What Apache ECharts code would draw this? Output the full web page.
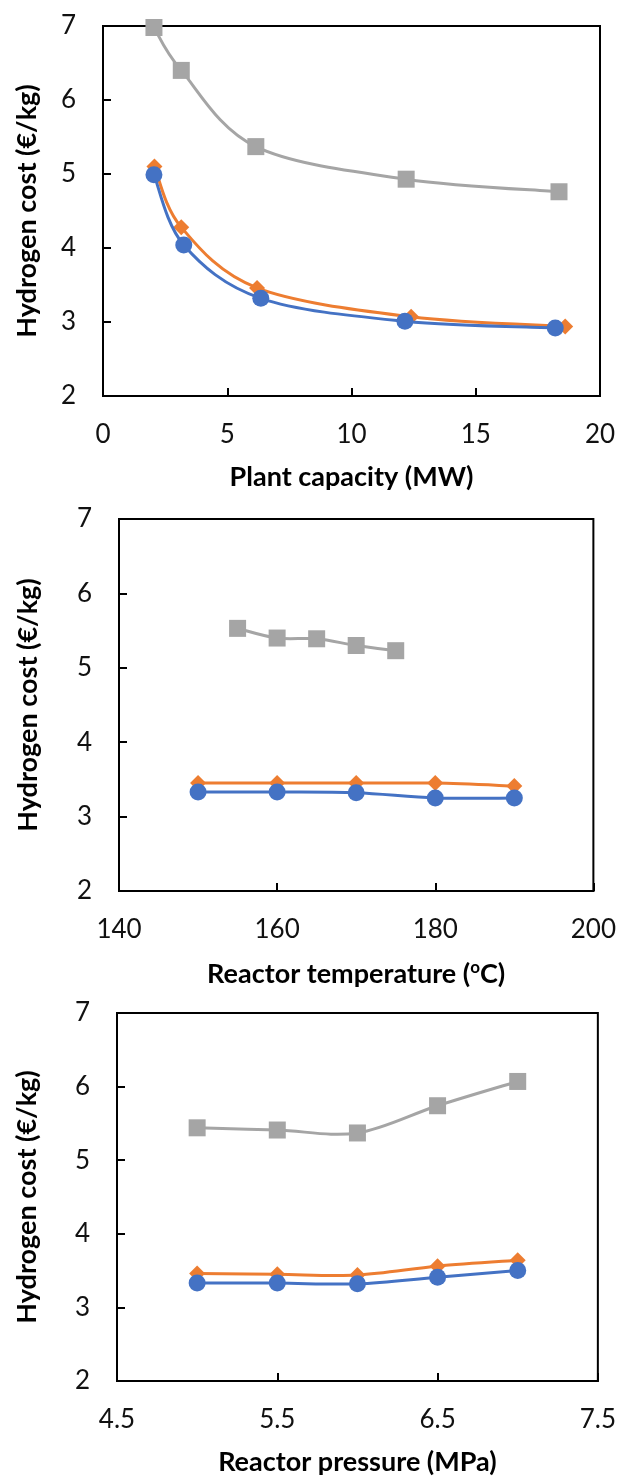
<!DOCTYPE html>
<html>
<head>
<meta charset="utf-8">
<script src="https://cdn.jsdelivr.net/npm/echarts@6/dist/echarts.min.js"></script>
<style>
html,body{margin:0;padding:0;background:#fff;}
#c{width:619px;height:1477px;}
</style>
</head>
<body>
<div id="c"></div>
<script>
// Panel 1: plant capacity
var capGrayX   = [2.05, 3.15, 6.15, 12.2, 18.35];
var capGrayY   = [6.98, 6.40, 5.37, 4.93, 4.76];
var capOrangeX = [2.07, 3.15, 6.2, 12.4, 18.6];
var capOrangeY = [5.10, 4.28, 3.46, 3.07, 2.94];
var capBlueX   = [2.05, 3.25, 6.35, 12.15, 18.2];
var capBlueY   = [4.99, 4.04, 3.32, 3.01, 2.92];
// Panel 2: reactor temperature
var tempGrayX   = [155, 160, 165, 170, 175];
var tempGrayY   = [5.53, 5.40, 5.39, 5.30, 5.23];
var tempOrangeX = [150, 160, 170, 180, 190];
var tempOrangeY = [3.45, 3.45, 3.45, 3.45, 3.41];
var tempBlueX   = [150, 160, 170, 180, 190];
var tempBlueY   = [3.33, 3.33, 3.32, 3.25, 3.25];
// Panel 3: reactor pressure
var presX       = [5.0, 5.5, 6.0, 6.5, 7.0];
var presGrayY   = [5.44, 5.41, 5.37, 5.74, 6.07];
var presOrangeY = [3.46, 3.45, 3.44, 3.56, 3.64];
var presBlueY   = [3.33, 3.33, 3.32, 3.41, 3.50];
// Axis ticks
var yTicks = {min: 2, max: 7, interval: 1};
var xTicks1 = {min: 0, max: 20, interval: 5};
var xTicks2 = {min: 140, max: 200, interval: 20};
var xTicks3 = {min: 4.5, max: 7.5, interval: 1};
var yName = 'Hydrogen cost (€/kg)';
var xNames = ['Plant capacity (MW)', 'Reactor temperature ({sup|o}C)', 'Reactor pressure (MPa)'];

function zip(xs, ys){ return xs.map(function(x,i){ return [x, ys[i]]; }); }

var FONT = 'Lato';
var grids = [
  {left:103, top:26, width:497, height:370},
  {left:119, top:519, width:478, height:372},
  {left:117, top:1013, width:481, height:369}
];
var yGaps = [62, 77, 76];
var xt = [xTicks1, xTicks2, xTicks3];

var option = {
  animation:false,
  backgroundColor:'#fff',
  grid: grids.map(function(g){ return Object.assign({show:true, borderColor:'#000', borderWidth:2, backgroundColor:'transparent'}, g); }),
  xAxis: xt.map(function(t,i){
    return {
      type:'value', gridIndex:i, min:t.min, max:t.max, interval:t.interval,
      name:xNames[i], nameLocation:'middle', nameGap:68,
      nameTextStyle:{fontFamily:FONT, fontSize:27, fontWeight:'bold', color:'#000',
        rich:{sup:{fontFamily:FONT, fontSize:17, fontWeight:'bold', color:'#000', padding:[0,0,13,0]}}},
      axisLine:{show:true, onZero:false, lineStyle:{color:'#000', width:2}},
      axisTick:{show:true, inside:true, length:8, lineStyle:{color:'#000', width:2}},
      axisLabel:{fontFamily:FONT, fontSize:26, color:'#111', margin:26,
        formatter:function(v){ return (i===2) ? v.toFixed(1) : String(v); }},
      splitLine:{show:false}
    };
  }),
  yAxis: grids.map(function(g,i){
    return {
      type:'value', gridIndex:i, min:yTicks.min, max:yTicks.max, interval:yTicks.interval,
      name:yName, nameLocation:'middle', nameGap:yGaps[i], nameRotate:90,
      nameTextStyle:{fontFamily:FONT, fontSize:27, fontWeight:'bold', color:'#000'},
      axisLine:{show:true, lineStyle:{color:'#000', width:2}},
      axisTick:{show:true, inside:true, length:8, lineStyle:{color:'#000', width:2}},
      axisLabel:{fontFamily:FONT, fontSize:26, color:'#111', margin:27},
      splitLine:{show:false}
    };
  }),
  series: []
};

var GRAY='#A5A5A5', ORANGE='#ED7D31', BLUE='#4472C4';

// Smooth curve (Catmull-Rom style, like a spreadsheet "smoothed line") through the data, via axis coords
function smoothLine(idx, data, color, z){
  option.series.push({
    type:'custom', xAxisIndex:idx, yAxisIndex:idx, data:data, z:z, silent:true,
    encode:{x:0, y:1},
    renderItem:function(params, api){
      if (params.dataIndex !== 0) return null;
      var p = data.map(function(d){ return api.coord(d); });
      var children = [];
      var n = p.length;
      for (var i = 0; i < n - 1; i++){
        var p0 = p[Math.max(i-1,0)], p1 = p[i], p2 = p[i+1], p3 = p[Math.min(i+2,n-1)];
        var t = 1/6;
        children.push({
          type:'bezierCurve',
          shape:{
            x1:p1[0], y1:p1[1], x2:p2[0], y2:p2[1],
            cpx1:p1[0] + (p2[0]-p0[0])*t, cpy1:p1[1] + (p2[1]-p0[1])*t,
            cpx2:p2[0] - (p3[0]-p1[0])*t, cpy2:p2[1] - (p3[1]-p1[1])*t
          },
          style:{stroke:color, lineWidth:3, fill:null}
        });
      }
      return {type:'group', children:children};
    }
  });
}
function markers(idx, data, color, symbol, size, z){
  option.series.push({
    type:'scatter', xAxisIndex:idx, yAxisIndex:idx, data:data,
    symbol:symbol, symbolSize:size, itemStyle:{color:color, opacity:1}, z:z, clip:false
  });
}
function addSeries(idx, data, color, symbol, size, z){
  smoothLine(idx, data, color, z);
  markers(idx, data, color, symbol, size, z + 0.5);
}
addSeries(0, zip(capGrayX, capGrayY), GRAY, 'rect', 17, 2);
addSeries(0, zip(capOrangeX, capOrangeY), ORANGE, 'diamond', 16, 3);
addSeries(0, zip(capBlueX, capBlueY), BLUE, 'circle', 17, 4);
addSeries(1, zip(tempGrayX, tempGrayY), GRAY, 'rect', 17, 2);
addSeries(1, zip(tempOrangeX, tempOrangeY), ORANGE, 'diamond', 16, 3);
addSeries(1, zip(tempBlueX, tempBlueY), BLUE, 'circle', 17, 4);
addSeries(2, zip(presX, presGrayY), GRAY, 'rect', 17, 2);
addSeries(2, zip(presX, presOrangeY), ORANGE, 'diamond', 16, 3);
addSeries(2, zip(presX, presBlueY), BLUE, 'circle', 17, 4);

var chart = echarts.init(document.getElementById('c'), null, {renderer:'canvas'});
chart.setOption(option);
</script>
</body>
</html>
